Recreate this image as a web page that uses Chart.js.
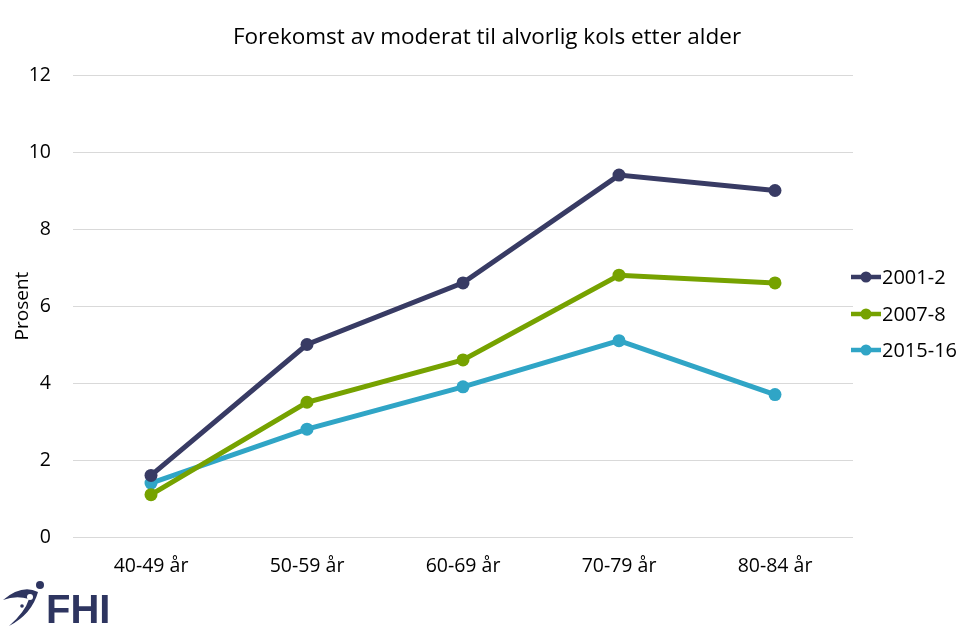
<!DOCTYPE html>
<html>
<head>
<meta charset="utf-8">
<script src="https://cdn.jsdelivr.net/npm/chart.js@4.4.0/dist/chart.umd.min.js"></script>
<style>
  html, body { margin: 0; padding: 0; background: #fff; }
  #wrap { width: 970px; height: 630px; }
</style>
</head>
<body>
<div id="wrap"><canvas id="kols-chart" width="970" height="630"></canvas></div>
<script>
// 数据
const ageGroups = ['40-49 år', '50-59 år', '60-69 år', '70-79 år', '80-84 år'];
const survey2001 = [1.6, 5.0, 6.6, 9.4, 9.0];
const survey2007 = [1.1, 3.5, 4.6, 6.8, 6.6];
const survey2015 = [1.4, 2.8, 3.9, 5.1, 3.7];
const seriesNames = ['2001-2', '2007-8', '2015-16'];
const yTicks = [0, 2, 4, 6, 8, 10, 12];

const colors = ['#383B64', '#76A200', '#30A5C6'];
const fontFamily = '"Open Sans", Lato, sans-serif';

// 标题、图例和FHI标志
const decorPlugin = {
    id: 'decor',
    afterDraw(chart) {
        const ctx = chart.ctx;
        ctx.save();
        // 标题
        ctx.fillStyle = '#000';
        ctx.font = '22.5px ' + fontFamily;
        ctx.textAlign = 'center';
        ctx.textBaseline = 'middle';
        ctx.fillText('Forekomst av moderat til alvorlig kols etter alder', 487, 38);

        // 图例
        const ys = [277, 314, 350];
        chart.data.datasets.forEach((ds, i) => {
            const y = ys[i];
            ctx.strokeStyle = ds.borderColor;
            ctx.lineWidth = 4.5;
            ctx.beginPath();
            ctx.moveTo(851, y);
            ctx.lineTo(881, y);
            ctx.stroke();
            ctx.fillStyle = ds.borderColor;
            ctx.beginPath();
            ctx.arc(866, y, 5.5, 0, Math.PI * 2);
            ctx.fill();
            ctx.fillStyle = '#000';
            ctx.font = '20px ' + fontFamily;
            ctx.textAlign = 'left';
            ctx.fillText(ds.label, 882, y + 1);
        });

        // FHI 标志
        ctx.fillStyle = '#2E3560';
        ctx.beginPath();
        ctx.moveTo(3, 600);
        ctx.quadraticCurveTo(22, 584, 38, 592);
        ctx.quadraticCurveTo(32, 614, 9, 626);
        ctx.quadraticCurveTo(25, 612, 29, 599);
        ctx.quadraticCurveTo(16, 595, 3, 600);
        ctx.fill();
        ctx.beginPath();
        ctx.arc(40, 585, 4, 0, Math.PI * 2);
        ctx.fill();
        ctx.fillStyle = '#fff';
        ctx.beginPath();
        ctx.arc(30, 597, 3, 0, Math.PI * 2);
        ctx.fill();
        ctx.fillStyle = '#2E3560';
        ctx.beginPath();
        ctx.arc(22, 606, 1.8, 0, Math.PI * 2);
        ctx.fill();
        ctx.font = 'bold 40px "Liberation Sans", Arial, sans-serif';
        ctx.textAlign = 'left';
        ctx.textBaseline = 'alphabetic';
        ctx.fillText('FHI', 46, 623);
        ctx.restore();
    }
};

const data = {
    labels: ageGroups,
    datasets: [survey2001, survey2007, survey2015].map((vals, i) => ({
        label: seriesNames[i],
        data: vals,
        borderColor: colors[i],
        backgroundColor: colors[i],
        borderWidth: 5,
        pointRadius: 6.5,
        pointHoverRadius: 6.5,
        pointBackgroundColor: colors[i],
        pointBorderWidth: 0,
        tension: 0
    }))
};

const options = {
    responsive: false,
    animation: false,
    layout: {
        padding: { top: 75, right: 117, bottom: 0, left: 11 }
    },
    scales: {
        x: {
            offset: true,
            grid: { display: false, drawTicks: false },
            border: { display: false },
            ticks: {
                color: '#000',
                padding: 18,
                font: { family: fontFamily, size: 19.5 }
            },
            afterFit(scale) { scale.height = 93; }
        },
        y: {
            min: 0,
            max: 12,
            afterBuildTicks(scale) {
                scale.ticks = yTicks.map(v => ({ value: v }));
            },
            grid: { color: '#D9D9D9', lineWidth: 1, drawTicks: false },
            border: { display: false },
            ticks: {
                color: '#000',
                padding: 22,
                font: { family: fontFamily, size: 19.5 }
            },
            title: {
                display: true,
                text: 'Prosent',
                color: '#000',
                padding: 0,
                font: { family: fontFamily, size: 19 }
            },
            afterFit(scale) { scale.width = 62; }
        }
    },
    plugins: {
        legend: { display: false },
        title: { display: false },
        tooltip: { enabled: false }
    }
};

// 创建图表
window.kolsChart = new Chart(document.getElementById('kols-chart'), {
    type: 'line',
    data: data,
    options: options,
    plugins: [decorPlugin]
});
</script>
</body>
</html>
